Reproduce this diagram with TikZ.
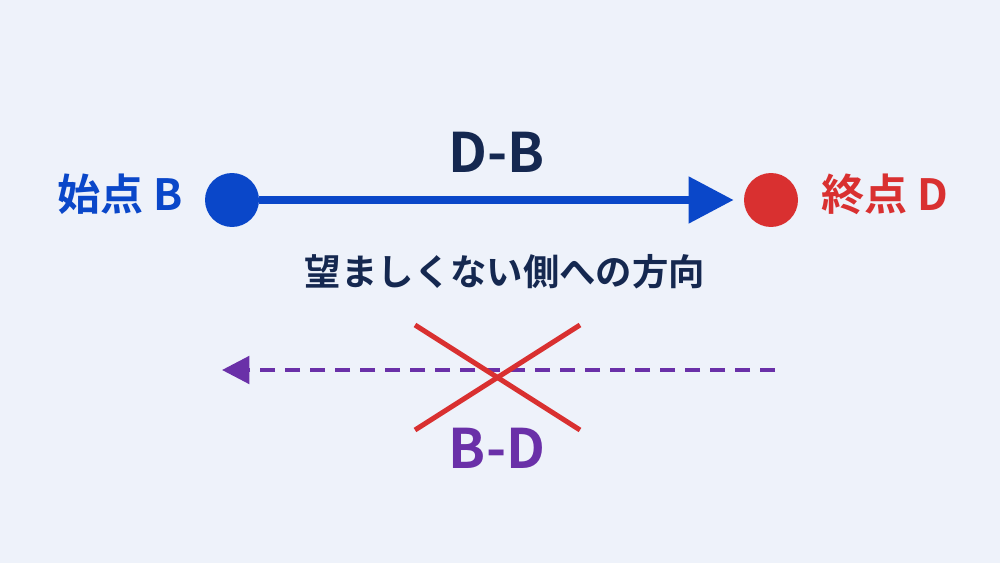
\documentclass[tikz,border=0pt]{standalone}
\usepackage{fontspec}
\setmainfont{Noto Sans CJK JP}[BoldFont={Noto Sans CJK JP Bold}]
\usetikzlibrary{positioning,arrows.meta}
\definecolor{bgcol}{HTML}{EEF2FA}
\definecolor{bluecol}{HTML}{0A47C9}
\definecolor{redcol}{HTML}{D93030}
\definecolor{navycol}{HTML}{152850}
\definecolor{purplecol}{HTML}{6A30A8}
\begin{document}
\begin{tikzpicture}[x=0.02cm,y=-0.02cm,
dot/.style ={circle ,fill ,inner sep=0pt ,minimum size =1.08cm},
lbl/.style ={font=\bfseries\fontsize{24.5}{24.5}\selectfont},
big/.style ={font=\bfseries\fontsize{31}{31}\selectfont}]
\fill[bgcol] (0,0) rectangle (1000,563);
\node[dot, bluecol] (B) at (232,200) {};
\node[dot, redcol] (D) at (771,200) {};
\node[lbl, bluecol] (BL) at (120,194) {始点 B};
\node[lbl, redcol] (DL) at (885,194) {終点 D};
\node[big, navycol] (DB) at (497,152) {D-B};
\node[navycol, font=\bfseries\fontsize{20.7}{20.7}\selectfont] (T) at (505,272) {望ましくない側への方向};
\draw[bluecol, line width=0.16cm, -{Triangle[length=0.9cm,width=0.9cm]}]
  (B) -- ([xshift=-0.2cm]D.west);
% rejected direction
\coordinate (P) at (775,370);
\coordinate (Q) at (222,370);
\draw[purplecol, line width=0.08cm, dash pattern=on 0.3cm off 0.2cm,
  -{Triangle[length=0.55cm,width=0.55cm]}] (P) -- (Q);
\draw[redcol, line width=0.1cm] (415,325) -- (580,430);
\draw[redcol, line width=0.1cm] (415,430) -- (580,325);
\node[big, purplecol] (BD) at (497,448) {B-D};
\end{tikzpicture}
\end{document}
